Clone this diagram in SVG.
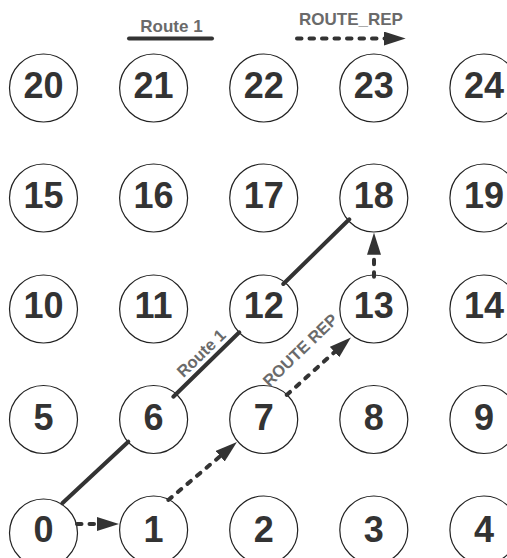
<svg xmlns="http://www.w3.org/2000/svg" width="507" height="558" viewBox="0 0 507 558">
<style>
.n circle{fill:#fff;stroke:#222;stroke-width:1.2}
.n text{font-family:"Liberation Sans",Arial,sans-serif;font-weight:bold;font-size:36px;fill:#333;text-anchor:middle}
.lbl{font-family:"Liberation Sans",Arial,sans-serif;font-weight:bold;fill:#6a6a6a;text-anchor:middle}
.r1{stroke:#333;stroke-width:4;stroke-linecap:round;fill:none}
.rep{stroke:#333;stroke-width:4;stroke-linecap:round;stroke-dasharray:4.5 8;fill:none}
</style>
<defs>
<marker id="ah" markerUnits="userSpaceOnUse" viewBox="0 0 22 14" markerWidth="22" markerHeight="14" refX="1" refY="7" orient="auto">
<path d="M0,0 L22,7 L0,14 z" fill="#333"/>
</marker>
</defs>
<g id="legend">
<text class="lbl" x="171.5" y="31.5" font-size="17">Route 1</text>
<line class="r1" x1="129" y1="38.5" x2="212" y2="38.5"/>
<text class="lbl" x="351" y="25" font-size="17">ROUTE_REP</text>
<line class="rep" x1="297" y1="38.5" x2="384.7" y2="38.5" marker-end="url(#ah)"/>
</g>
<g id="nodes">
<g id="n20" class="n"><circle cx="43.5" cy="88" r="34"/><text x="43.5" y="98">20</text></g>
<g id="n21" class="n"><circle cx="153.6" cy="88" r="34"/><text x="153.6" y="98">21</text></g>
<g id="n22" class="n"><circle cx="263.7" cy="88" r="34"/><text x="263.7" y="98">22</text></g>
<g id="n23" class="n"><circle cx="373.8" cy="88" r="34"/><text x="373.8" y="98">23</text></g>
<g id="n24" class="n"><circle cx="483.9" cy="88" r="34"/><text x="483.9" y="98">24</text></g>
<g id="n15" class="n"><circle cx="43.5" cy="198" r="34"/><text x="43.5" y="207.5">15</text></g>
<g id="n16" class="n"><circle cx="153.6" cy="198" r="34"/><text x="153.6" y="207.5">16</text></g>
<g id="n17" class="n"><circle cx="263.7" cy="198" r="34"/><text x="263.7" y="207.5">17</text></g>
<g id="n18" class="n"><circle cx="373.8" cy="198" r="34"/><text x="373.8" y="207.5">18</text></g>
<g id="n19" class="n"><circle cx="483.9" cy="198" r="34"/><text x="483.9" y="207.5">19</text></g>
<g id="n10" class="n"><circle cx="43.5" cy="309" r="34"/><text x="43.5" y="318">10</text></g>
<g id="n11" class="n"><circle cx="153.6" cy="309" r="34"/><text x="153.6" y="318">11</text></g>
<g id="n12" class="n"><circle cx="263.7" cy="309" r="34"/><text x="263.7" y="318">12</text></g>
<g id="n13" class="n"><circle cx="373.8" cy="309" r="34"/><text x="373.8" y="318">13</text></g>
<g id="n14" class="n"><circle cx="483.9" cy="309" r="34"/><text x="483.9" y="318">14</text></g>
<g id="n5" class="n"><circle cx="43.5" cy="419.5" r="34"/><text x="43.5" y="430">5</text></g>
<g id="n6" class="n"><circle cx="153.6" cy="419.5" r="34"/><text x="153.6" y="430">6</text></g>
<g id="n7" class="n"><circle cx="263.7" cy="419.5" r="34"/><text x="263.7" y="430">7</text></g>
<g id="n8" class="n"><circle cx="373.8" cy="419.5" r="34"/><text x="373.8" y="430">8</text></g>
<g id="n9" class="n"><circle cx="483.9" cy="419.5" r="34"/><text x="483.9" y="430">9</text></g>
<g id="n0" class="n"><circle cx="43.5" cy="533" r="34"/><text x="43.5" y="542">0</text></g>
<g id="n1" class="n"><circle cx="153.6" cy="530" r="34"/><text x="153.6" y="542">1</text></g>
<g id="n2" class="n"><circle cx="263.7" cy="530" r="34"/><text x="263.7" y="542">2</text></g>
<g id="n3" class="n"><circle cx="373.8" cy="530" r="34"/><text x="373.8" y="542">3</text></g>
<g id="n4" class="n"><circle cx="483.9" cy="530" r="34"/><text x="483.9" y="542">4</text></g>
</g>
<g id="connectors">
<line class="r1" x1="62.3" y1="503.3" x2="128.3" y2="441.7"/>
<line class="r1" x1="173.3" y1="396.7" x2="239.3" y2="332.3"/>
<line class="r1" x1="283.3" y1="284" x2="349.3" y2="219.3"/>
<line class="rep" x1="77" y1="524" x2="98" y2="524" marker-end="url(#ah)"/>
<line class="rep" x1="168.3" y1="500" x2="220.9" y2="455.6" marker-end="url(#ah)"/>
<line class="rep" x1="286.7" y1="395" x2="335.3" y2="351.4" marker-end="url(#ah)"/>
<line class="rep" x1="374" y1="276.7" x2="374" y2="253.7" marker-end="url(#ah)"/>
<text class="lbl" font-size="16.5" transform="translate(201,353) rotate(-44)" y="6">Route 1</text>
<text class="lbl" font-size="16.5" transform="translate(300,350) rotate(-44)" y="6">ROUTE REP</text>
</g>
</svg>
